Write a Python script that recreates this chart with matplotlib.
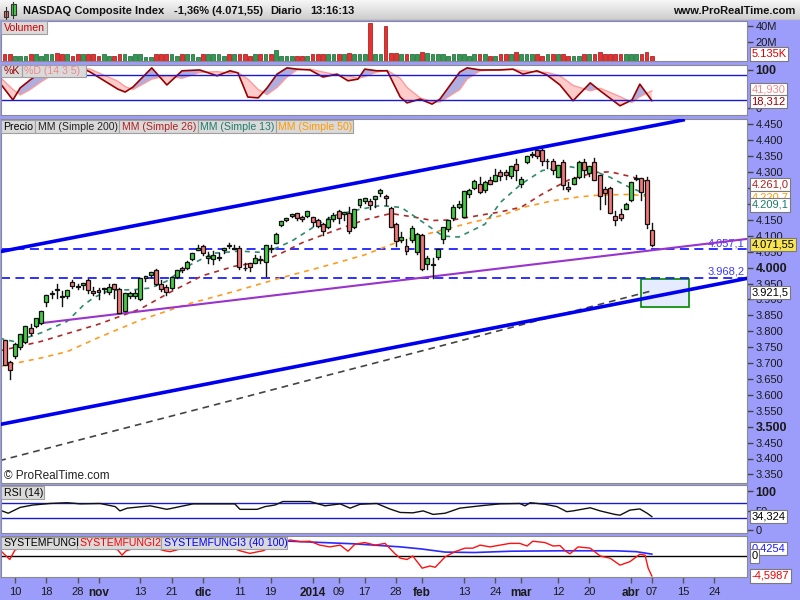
import numpy as np
import matplotlib.pyplot as plt
from matplotlib.patches import Rectangle
from matplotlib.colors import LinearSegmentedColormap

plt.rcParams['font.family'] = ['Liberation Sans', 'DejaVu Sans']

# trading day index: 0 = 10 oct 2013, first candle = 8 oct 2013
day0 = -2
opens = [3771, 3702, 3721, 3749, 3766, 3810, 3816, 3827, 3893, 3917,
         3934, 3910, 3911, 3955, 3942, 3946, 3960, 3927, 3930, 3932,
         3923, 3949, 3934, 3864, 3911, 3911, 3900, 3967, 3977, 3993,
         3948, 3940, 3937, 3970, 4000, 3999, 4027, 4055, 4068, 4030,
         4026, 4029, 4055, 4070, 4058, 4063, 4000, 4014, 4014, 4027,
         4019, 4061, 4078, 4134, 4149, 4162, 4171, 4158, 4162, 4160,
         4149, 4137, 4128, 4154, 4179, 4167, 4171, 4127, 4197, 4209,
         4209, 4215, 4234, 4225, 4188, 4138, 4087, 4068, 4087, 4048,
         4103, 4010, 4008, 4032, 4089, 4122, 4157, 4192, 4160, 4230,
         4250, 4263, 4243, 4275, 4273, 4299, 4300, 4287, 4325, 4262,
         4331, 4355, 4369, 4370, 4334, 4336, 4286, 4333, 4252, 4263,
         4286, 4331, 4296, 4331, 4292, 4246, 4251, 4161, 4168, 4183,
         4211, 4280, 4283, 4275, 4117]
highs = [3772, 3706, 3762, 3792, 3816, 3822, 3840, 3864, 3915, 3925,
         3947, 3925, 3930, 3962, 3947, 3953, 3963, 3939, 3937, 3937,
         3949, 3949, 3935, 3919, 3924, 3931, 3966, 3973, 3986, 3996,
         3960, 3945, 3970, 3991, 4001, 4022, 4045, 4070, 4071, 4048,
         4051, 4045, 4063, 4077, 4070, 4067, 4016, 4014, 4040, 4037,
         4071, 4071, 4109, 4148, 4157, 4167, 4172, 4162, 4177, 4160,
         4152, 4139, 4159, 4171, 4182, 4175, 4190, 4184, 4215, 4219,
         4216, 4226, 4246, 4227, 4190, 4140, 4111, 4089, 4130, 4109,
         4105, 4037, 4030, 4058, 4126, 4149, 4196, 4208, 4240, 4246,
         4275, 4285, 4272, 4285, 4309, 4308, 4307, 4319, 4342, 4285,
         4352, 4362, 4371, 4372, 4342, 4341, 4324, 4339, 4270, 4286,
         4334, 4340, 4320, 4346, 4292, 4254, 4254, 4179, 4185, 4204,
         4268, 4290, 4283, 4284, 4140]
lows = [3694, 3650, 3716, 3745, 3764, 3789, 3812, 3824, 3880, 3905,
        3905, 3878, 3905, 3935, 3932, 3932, 3919, 3914, 3900, 3920,
        3918, 3904, 3857, 3863, 3906, 3905, 3898, 3957, 3970, 3945,
        3925, 3914, 3932, 3968, 3986, 3996, 4025, 4054, 4039, 4014,
        4012, 4025, 4045, 4063, 4057, 3997, 3992, 3990, 4013, 4016,
        3973, 4050, 4077, 4130, 4146, 4158, 4150, 4147, 4160, 4130,
        4128, 4104, 4126, 4145, 4140, 4149, 4109, 4125, 4190, 4204,
        4185, 4190, 4225, 4196, 4128, 4068, 4080, 4043, 4080, 4043,
        3991, 3997, 3968, 4027, 4078, 4116, 4150, 4186, 4159, 4223,
        4248, 4234, 4238, 4262, 4271, 4276, 4278, 4282, 4275, 4254,
        4330, 4348, 4345, 4322, 4312, 4294, 4285, 4247, 4242, 4262,
        4283, 4284, 4288, 4276, 4184, 4199, 4173, 4135, 4150, 4183,
        4210, 4276, 4211, 4123, 4069]
closes = [3695, 3678, 3761, 3792, 3815, 3794, 3840, 3863, 3915, 3920,
          3929, 3907, 3929, 3943, 3940, 3952, 3931, 3920, 3922, 3937,
          3940, 3932, 3858, 3919, 3920, 3920, 3966, 3972, 3986, 3949,
          3932, 3922, 3970, 3991, 3994, 4018, 4045, 4060, 4045, 4037,
          4038, 4033, 4063, 4069, 4060, 4003, 3999, 4001, 4029, 4023,
          4070, 4059, 4104, 4148, 4155, 4167, 4157, 4154, 4177, 4143,
          4132, 4114, 4153, 4165, 4157, 4175, 4114, 4184, 4215, 4219,
          4197, 4226, 4243, 4218, 4128, 4083, 4097, 4052, 4123, 4104,
          3997, 4031, 4012, 4057, 4126, 4149, 4191, 4201, 4240, 4244,
          4273, 4238, 4268, 4263, 4292, 4288, 4292, 4318, 4308, 4278,
          4352, 4358, 4352, 4336, 4334, 4307, 4323, 4260, 4246, 4280,
          4333, 4307, 4319, 4276, 4226, 4235, 4173, 4151, 4156, 4199,
          4268, 4283, 4238, 4136, 4072]
volumes = [4.6, 4.6, 3.0, 3.0, 3.0, 4.6, 4.6, 3.0, 4.6, 4.6,
           6.2, 4.6, 4.6, 3.0, 4.6, 4.6, 4.6, 4.6, 3.0, 4.6,
           3.0, 3.0, 4.6, 4.6, 3.0, 4.6, 4.6, 1.5, 1.5, 4.6,
           4.6, 4.6, 4.6, 3.0, 4.6, 4.6, 4.6, 1.5, 4.6, 4.6,
           4.6, 4.6, 3.0, 4.6, 4.6, 4.6, 4.6, 3.0, 4.6, 4.6,
           4.6, 4.6, 10.0, 3.0, 2.0, 2.0, 2.0, 3.0, 3.0, 4.6,
           4.6, 4.6, 4.6, 4.6, 4.6, 4.6, 6.6, 4.6, 4.6, 4.6,
           43.8, 4.6, 4.6, 40.0, 6.6, 6.6, 4.6, 4.6, 4.6, 4.6,
           7.0, 6.2, 5.5, 4.6, 4.6, 3.0, 4.6, 4.6, 4.6, 3.0,
           4.6, 4.6, 4.6, 3.0, 3.0, 4.6, 4.6, 4.6, 7.0, 4.6,
           4.6, 4.6, 4.6, 3.0, 4.6, 4.6, 4.6, 4.6, 3.0, 3.0,
           3.0, 4.6, 4.6, 4.6, 7.0, 5.5, 5.5, 4.6, 4.6, 4.6,
           4.6, 4.6, 5.5, 7.0, 2.5]

sma13_x = [-3, 0, 5, 10, 13, 15, 18, 23, 26, 29, 33, 38, 43, 48, 53, 58, 61, 66, 70,
           74, 76, 82, 85, 90, 93, 97, 101, 106, 111, 114, 117, 120, 122]
sma13 = [3778, 3767, 3795, 3831, 3880, 3905, 3928, 3931, 3936, 3957, 4004, 4045, 4052,
         4047, 4083, 4136, 4163, 4183, 4195, 4189, 4167, 4099, 4096, 4136, 4205, 4263,
         4305, 4318, 4303, 4284, 4258, 4237, 4212]
sma26_x = [-3, 5, 16, 24, 30, 36, 42, 47, 51, 55, 61, 67, 72, 76, 80, 84, 90, 93, 97,
           101, 106, 111, 114, 118, 122]
sma26 = [3738, 3768, 3822, 3870, 3925, 3975, 4004, 4018, 4045, 4078, 4115, 4150, 4170,
         4160, 4148, 4150, 4167, 4175, 4190, 4231, 4275, 4299, 4301, 4286, 4266]
sma50_x = [-3, 5, 10, 16, 24, 33, 42, 51, 61, 67, 74, 80, 87, 93, 98, 103, 108, 112, 118, 122]
sma50 = [3689, 3716, 3736, 3780, 3835, 3885, 3925, 3968, 4012, 4040, 4085, 4110, 4140,
         4163, 4192, 4210, 4222, 4228, 4230, 4222]
sma200_x = [-3, 20, 40, 60, 80, 100, 122]
sma200 = [3393, 3491, 3576, 3662, 3747, 3833, 3927]

# drawn trend lines and levels
chan_up_x, chan_up_y = [-2.87, 128.0], [4050, 4464]
chan_lo_x, chan_lo_y = [-2.87, 140.2], [3507, 3966]
purple_x, purple_y = [4.79, 140.2], [3825, 4090]
levels = [4057.1, 3968.2]
level_labels = ['4.057,1', '3.968,2']
zone_x, zone_y = [119.9, 129.1], [3877, 3964]

stoch_x = [-2.9, -0.4, 1.0, 2.9, 4.8, 7.7, 10.5, 13.6, 14.4, 19.7, 21.1, 22.6, 26.2, 29.1,
           32.0, 35.4, 38.7, 41.2, 42.7, 44.6, 46.6, 48.3, 50.2, 52.1, 54.0, 56.5, 59.0,
           61.7, 63.8, 65.7, 67.0, 69.3, 71.3, 73.8, 75.1, 77.6, 79.9, 81.4, 85.2, 86.6,
           89.1, 92.9, 95.4, 97.3, 100.0, 101.9, 104.4, 106.9, 110.2, 112.1, 115.9, 118.2,
           119.7, 122.0]
stoch_k = [61, 20, 49, 68, 85, 97, 97, 92, 87, 46, 39, 51, 97, 56, 90, 92, 78, 90, 85, 27,
           25, 49, 82, 97, 94, 92, 75, 82, 66, 70, 94, 90, 90, 27, 13, 22, 10, 22, 87, 97,
           92, 92, 94, 82, 90, 80, 56, 18, 61, 42, 6, 20, 58, 18.3]
stoch_d = [75, 45, 32, 45, 62, 85, 95, 95, 94, 65, 52, 45, 70, 78, 72, 86, 88, 84, 86, 70,
           45, 33, 50, 75, 92, 94, 87, 80, 78, 72, 76, 87, 91, 72, 50, 25, 16, 15, 45, 70,
           90, 93, 93, 90, 87, 86, 78, 55, 42, 48, 28, 14, 28, 41.9]

rsi_x = [-2.9, -1.3, 1.0, 3.4, 6.7, 10.0, 12.5, 16.3, 19.2, 20.1, 21.5, 25.9, 29.1, 31.6,
         34.1, 37.9, 42.1, 43.1, 46.4, 47.9, 49.8, 51.3, 56.5, 59.4, 62.3, 64.2, 66.1,
         69.3, 71.8, 73.8, 76.2, 78.2, 80.1, 82.4, 85.2, 89.1, 92.9, 96.7, 97.7, 98.7,
         101.5, 103.8, 105.7, 106.9, 110.2, 112.1, 114.9, 115.9, 117.8, 119.7, 121.1, 122.0]
rsi = [51, 43, 58, 64, 68, 70, 67, 68, 60, 49, 56, 62, 53, 60, 67, 67, 67, 53, 53, 60,
       64, 73, 73, 62, 67, 56, 66, 68, 54, 45, 44, 49, 40, 43, 56, 62, 67, 68, 62, 70,
       66, 60, 47, 49, 57, 49, 40, 38, 51, 54, 43, 34.3]

fungi2_x = [-2.9, -1.0, 0.0, 4.8, 10.5, 16.3, 19.7, 20.5, 21.3, 24.9, 28.7, 29.7, 35.4,
            40.2, 43.1, 45.0, 46.6, 47.5, 49.8, 52.7, 54.6, 56.5, 58.4, 60.3, 62.3, 63.8,
            65.1, 67.0, 69.0, 70.9, 72.8, 73.8, 75.1, 76.2, 78.0, 79.5, 80.5, 82.4, 84.3,
            86.2, 87.7, 89.1, 91.0, 92.9, 94.8, 96.7, 98.1, 99.2, 101.5, 103.1, 104.4,
            105.4, 106.3, 107.9, 110.2, 112.1, 114.0, 115.9, 117.8, 119.7, 120.7, 121.3, 122.0]
fungi2 = [1.4, -0.8, 1.4, 3.0, 3.5, 2.5, 1.4, 0.2, 1.2, 2.5, 1.2, 1.0, 2.8, 2.5, 1.2, 0.6,
          1.0, 1.2, 2.5, 3.7, 3.3, 3.4, 2.5, 2.1, 2.5, 1.1, 2.7, 3.1, 2.5, 2.9, 0.5, -0.5,
          -0.8, 0.0, -2.8, -2.3, -2.6, -0.2, 1.0, 1.8, 1.8, 2.5, 2.1, 2.5, 2.9, 2.9, 2.3,
          3.4, 3.1, 2.3, 2.4, 1.2, 0.5, 2.1, 1.8, 0.0, -0.5, -2.1, -1.3, 0.4, 0.2, -2.8, -4.6]
fungi3_x = [-2.9, 20, 40, 52.7, 65, 73.8, 78, 82.4, 88, 95, 105, 115, 119, 122]
fungi3 = [3.5, 3.6, 3.5, 3.4, 2.8, 2.1, 1.6, 0.9, 0.8, 1.1, 1.2, 1.2, 1.0, 0.43]

xtick_pos = [0, 6, 12, 16, 24, 30, 36, 43, 49, 57, 62, 67, 73, 78, 86, 92, 97, 104, 110,
             118, 122, 128, 134]
xtick_lab = ['10', '18', '28', 'nov', '13', '21', 'dic', '11', '19', '2014', '09', '17',
             '28', 'feb', '13', '24', 'mar', '12', '20', 'abr', '07', '15', '24']
bold_lab = ['nov', 'dic', '2014', 'feb', 'mar', 'abr']

W, H = 800, 600
XMIN, XMAX = -2.68, 140.23
BG = '#9c9cfa'


def px_box(l, t, r, b):
    return [l / W, 1 - b / H, (r - l) / W, (b - t) / H]


fig = plt.figure(figsize=(8, 6), dpi=100, facecolor=BG)


def panel(t, b):
    ax = fig.add_axes(px_box(1, t, 747, b))
    ax.set_xlim(XMIN, XMAX)
    ax.set_facecolor('white')
    for s in ax.spines.values():
        s.set_color('#8a8a8a')
        s.set_linewidth(0.8)
    ax.yaxis.tick_right()
    ax.tick_params(axis='x', bottom=False, labelbottom=False)
    ax.tick_params(axis='y', length=4, width=1, color='#444444', labelsize=8,
                   labelcolor='#1a1a1a', pad=2)
    return ax


def vbox(ax, y, text, color, fc='white'):
    ax.text(1.006, y, text, transform=ax.get_yaxis_transform(), ha='left', va='center',
            fontsize=8, color=color, clip_on=False, zorder=20,
            bbox=dict(boxstyle='square,pad=0.15', fc=fc, ec='#7a7a7a', lw=0.8))


def tabs(t, b, items):
    for text, color, l, r in items:
        fig.add_artist(Rectangle((l / W, 1 - b / H), (r - l) / W, (b - t) / H,
                                 transform=fig.transFigure, fc='#dadada', ec='#a0a0a0',
                                 lw=0.8, zorder=30))
        fig.text((l + 2.5) / W, 1 - ((t + b) / 2 + 0.5) / H, text, color=color,
                 fontsize=7.6, va='center', ha='left', zorder=31)


# ---- header ----
axh = fig.add_axes([0, 1 - 20 / H, 1, 20 / H])
grad = LinearSegmentedColormap.from_list('g', ['#f6f6f6', '#cdcdcd'])
axh.imshow(np.linspace(0, 1, 20).reshape(-1, 1), cmap=grad, aspect='auto',
           extent=[0, 800, 20, 0])
axh.set_xlim(0, 800)
axh.set_ylim(20, 0)
axh.axis('off')
axh.plot([5.8, 5.8], [7, 19], color='#333', lw=0.8)
axh.add_patch(Rectangle((3.5, 10.7), 4.8, 6, fc='#f07070', ec='#333', lw=0.8))
axh.plot([13.3, 13.3], [1.5, 18], color='#333', lw=0.8)
axh.add_patch(Rectangle((11, 4), 4.7, 11, fc='#44cc44', ec='#333', lw=0.8))
axh.plot([0, 800], [19.6, 19.6], color='#9a9a9a', lw=1)
for text, x in [('NASDAQ Composite Index', 23), ('-1,36% (4.071,55)', 174),
                ('Diario', 270), ('13:16:13', 310)]:
    axh.text(x, 10.5, text, fontsize=8, fontweight='bold', va='center', ha='left',
             color='#111111')
axh.text(795, 10.5, 'www.ProRealTime.com', fontsize=8, fontweight='bold', va='center',
         ha='right', color='#111111')

xs = np.arange(day0, day0 + len(closes))
up = [c >= o for o, c in zip(opens, closes)]

# ---- volume ----
ax_v = panel(21, 61)
VLO, VHI = -3.75, 46.25
ax_v.set_ylim(VLO, VHI)
vcol = ['#2e9a52' if u else '#e83030' for u in up]
vedge = ['#1c5e32' if u else '#9a1010' for u in up]
ax_v.bar(xs, np.array(volumes) - VLO, bottom=VLO, width=0.72, color=vcol,
         edgecolor=vedge, linewidth=0.5)
ax_v.set_yticks([40, 20])
ax_v.set_yticklabels(['40M', '20M'])
vbox(ax_v, 5, '5.135K', '#dd0000')
tabs(21, 34, [('Volumen', '#cc0000', 1, 47)])

# ---- stochastic ----
ax_s = panel(65, 115)
ax_s.set_ylim(-16.1, 103.9)
k = np.array(stoch_k)
d = np.array(stoch_d)
ax_s.fill_between(stoch_x, k, d, where=k >= d, interpolate=True, color='#aeaee0', lw=0)
ax_s.fill_between(stoch_x, k, d, where=k < d, interpolate=True, color='#ffcccc', lw=0)
ax_s.plot(stoch_x, d, color='#ff9a9a', lw=1)
ax_s.plot(stoch_x, k, color='#990000', lw=1.2)
ax_s.axhline(80, color='#1a1acc', lw=1)
ax_s.axhline(20, color='#1a1acc', lw=1)
ax_s.set_yticks([92, 0])
ax_s.set_yticklabels(['100', '0'])
ax_s.get_yticklabels()[0].set_fontweight('bold')
ax_s.get_yticklabels()[0].set_fontsize(9)
vbox(ax_s, 45, '41,930', '#f08a8a')
vbox(ax_s, 17, '18,312', '#990000')
tabs(65, 77, [('%K', '#990000', 1, 22), ('%D (14 3 5)', '#ee8888', 22, 86)])

# ---- price ----
ax_p = panel(119, 483)
ax_p.set_ylim(3323, 4467)
ax_p.add_patch(Rectangle((zone_x[0], zone_y[0]), zone_x[1] - zone_x[0],
                         zone_y[1] - zone_y[0], fc='#e6ecff', ec='#008800', lw=1.2,
                         zorder=1))
for lv, lt in zip(levels, level_labels):
    ax_p.axhline(lv, color='#1f1fff', lw=1.3, ls=(0, (5, 3)), zorder=2)
    ax_p.text(0.997, lv + 3, lt, transform=ax_p.get_yaxis_transform(), ha='right',
              va='bottom', fontsize=8, color='#3a3aff', zorder=3)
ax_p.plot(sma200_x, sma200, color='#444444', lw=1.2, ls=(0, (4, 3)), zorder=2)
ax_p.plot(sma50_x, sma50, color='#ff9a1e', lw=1.2, ls=(0, (3, 3)), zorder=2)
ax_p.plot(sma26_x, sma26, color='#b02a2a', lw=1.2, ls=(0, (3, 3)), zorder=2)
ax_p.plot(sma13_x, sma13, color='#2e8b6b', lw=1.2, ls=(0, (3, 3)), zorder=2)
ax_p.plot(chan_up_x, chan_up_y, color='#0000ee', lw=2.6, zorder=3)
ax_p.plot(chan_lo_x, chan_lo_y, color='#0000ee', lw=2.6, zorder=3)
ax_p.plot(purple_x, purple_y, color='#9933cc', lw=1.5, zorder=3)
for x, o, h, l, c, u in zip(xs, opens, highs, lows, closes, up):
    ax_p.plot([x, x], [l, h], color='#111111', lw=1, zorder=4)
    ax_p.add_patch(Rectangle((x - 0.38, min(o, c)), 0.76, max(abs(c - o), 0.5),
                             fc='#44cc44' if u else '#f07878', ec='#111111', lw=0.9,
                             zorder=5))
pticks = list(range(4450, 3349, -50))
hidden = (4250, 4200)   # covered by the value boxes
ax_p.set_yticks(pticks)
ax_p.set_yticklabels(['' if v in hidden else f"{v / 1000:.3f}" for v in pticks])
for lab in ax_p.get_yticklabels():
    if lab.get_text() in ('4.000', '3.500'):
        lab.set_fontweight('bold')
        lab.set_fontsize(9)
vbox(ax_p, 4261.0, '4.261,0', '#b02020')
vbox(ax_p, 4220.7, '4.220,7', '#ff9900')
vbox(ax_p, 4209.1 - 12, '4.209,1', '#207a6a')
vbox(ax_p, 4071.55, '4.071,55', '#000000', fc='#f6e452')
vbox(ax_p, 3921.5, '3.921,5', '#000000')
ax_p.text(0.004, 0.02, '\u00a9 ProRealTime.com', transform=ax_p.transAxes, fontsize=8.5,
          color='#222222', va='center', ha='left')
tabs(120, 133, [('Precio', '#000000', 1, 35), ('MM (Simple 200)', '#222222', 35, 119),
                ('MM (Simple 26)', '#b02020', 119, 198),
                ('MM (Simple 13)', '#207a6a', 198, 276),
                ('MM (Simple 50)', '#ff9900', 276, 353)])

# ---- RSI ----
ax_r = panel(485, 533)
ax_r.set_ylim(-7.7, 115.4)
ax_r.axhline(70, color='#1a1acc', lw=1)
ax_r.axhline(30, color='#1a1acc', lw=1)
ax_r.plot(rsi_x, rsi, color='#111111', lw=1)
ax_r.set_yticks([100, 50, 0])
ax_r.set_yticklabels(['100', '50', '0'])
ax_r.get_yticklabels()[0].set_fontweight('bold')
ax_r.get_yticklabels()[0].set_fontsize(9)
vbox(ax_r, 34.324, '34,324', '#000000')
tabs(486, 499, [('RSI (14)', '#000000', 1, 44)])

# ---- SYSTEMFUNGI ----
ax_f = panel(536, 577)
ax_f.set_ylim(-4.83, 4.6)
ax_f.axhline(0, color='#000000', lw=1)
ax_f.plot(fungi3_x, fungi3, color='#2a2aff', lw=1.2)
ax_f.plot(fungi2_x, fungi2, color='#ff1010', lw=1)
ax_f.set_yticks([])
vbox(ax_f, 1.8, '0,4254', '#1a1aff')
vbox(ax_f, 0, '0', '#000000')
vbox(ax_f, -4.5987, '-4,5987', '#ee0000')
tabs(537, 549, [('SYSTEMFUNGI', '#000000', 1, 77), ('SYSTEMFUNGI2', '#ff0000', 77, 161),
                ('SYSTEMFUNGI3 (40 100)', '#0000ff', 161, 287)])
ax_f.tick_params(axis='x', bottom=True, labelbottom=True, length=4, width=1,
                 color='#555555', labelsize=8, pad=3, labelcolor='#1a1a1a')
ax_f.set_xticks(xtick_pos)
ax_f.set_xticklabels(xtick_lab)
for lab in ax_f.get_xticklabels():
    if lab.get_text() in bold_lab:
        lab.set_fontweight('bold')
        lab.set_fontsize(8.5)

fig.savefig('out.png', dpi=100, facecolor=BG)
